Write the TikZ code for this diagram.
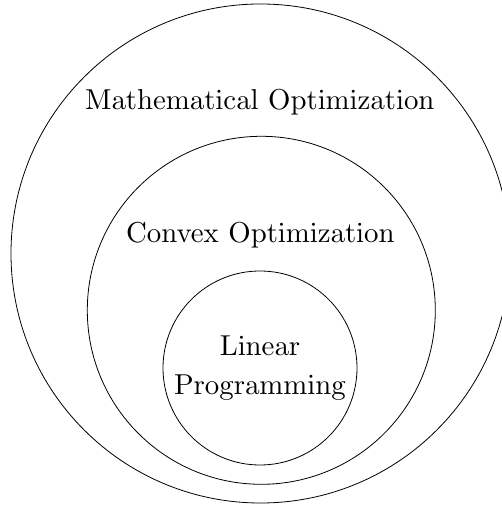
\documentclass[tikz,border=0pt]{standalone}
\font\bigrm=cmr10 at 28.8pt
\def\bigtext{\bigrm\baselineskip=39pt\relax}
\begin{document}
\begin{tikzpicture}[x=1pt,y=1pt,
  ring/.style={draw, circle, line width=0.8pt, inner sep=0pt},
  lbl/.style={font=\bigtext, inner sep=0pt}]
\useasboundingbox (0,0) rectangle (501,508);
\node[ring, minimum size=499pt] (outer) at (260.5,254.5) {};
\node[ring, minimum size=348pt] (middle) at (261.3,197.7) {};
\node[ring, minimum size=194pt, align=center, font=\bigtext] (inner) at (260,140) {Linear\\Programming};
\node[lbl, anchor=base] (mathopt) at (260,398) {Mathematical Optimization};
\node[lbl, anchor=base] (convopt) at (260.5,265.7) {Convex Optimization};
\end{tikzpicture}
\end{document}
